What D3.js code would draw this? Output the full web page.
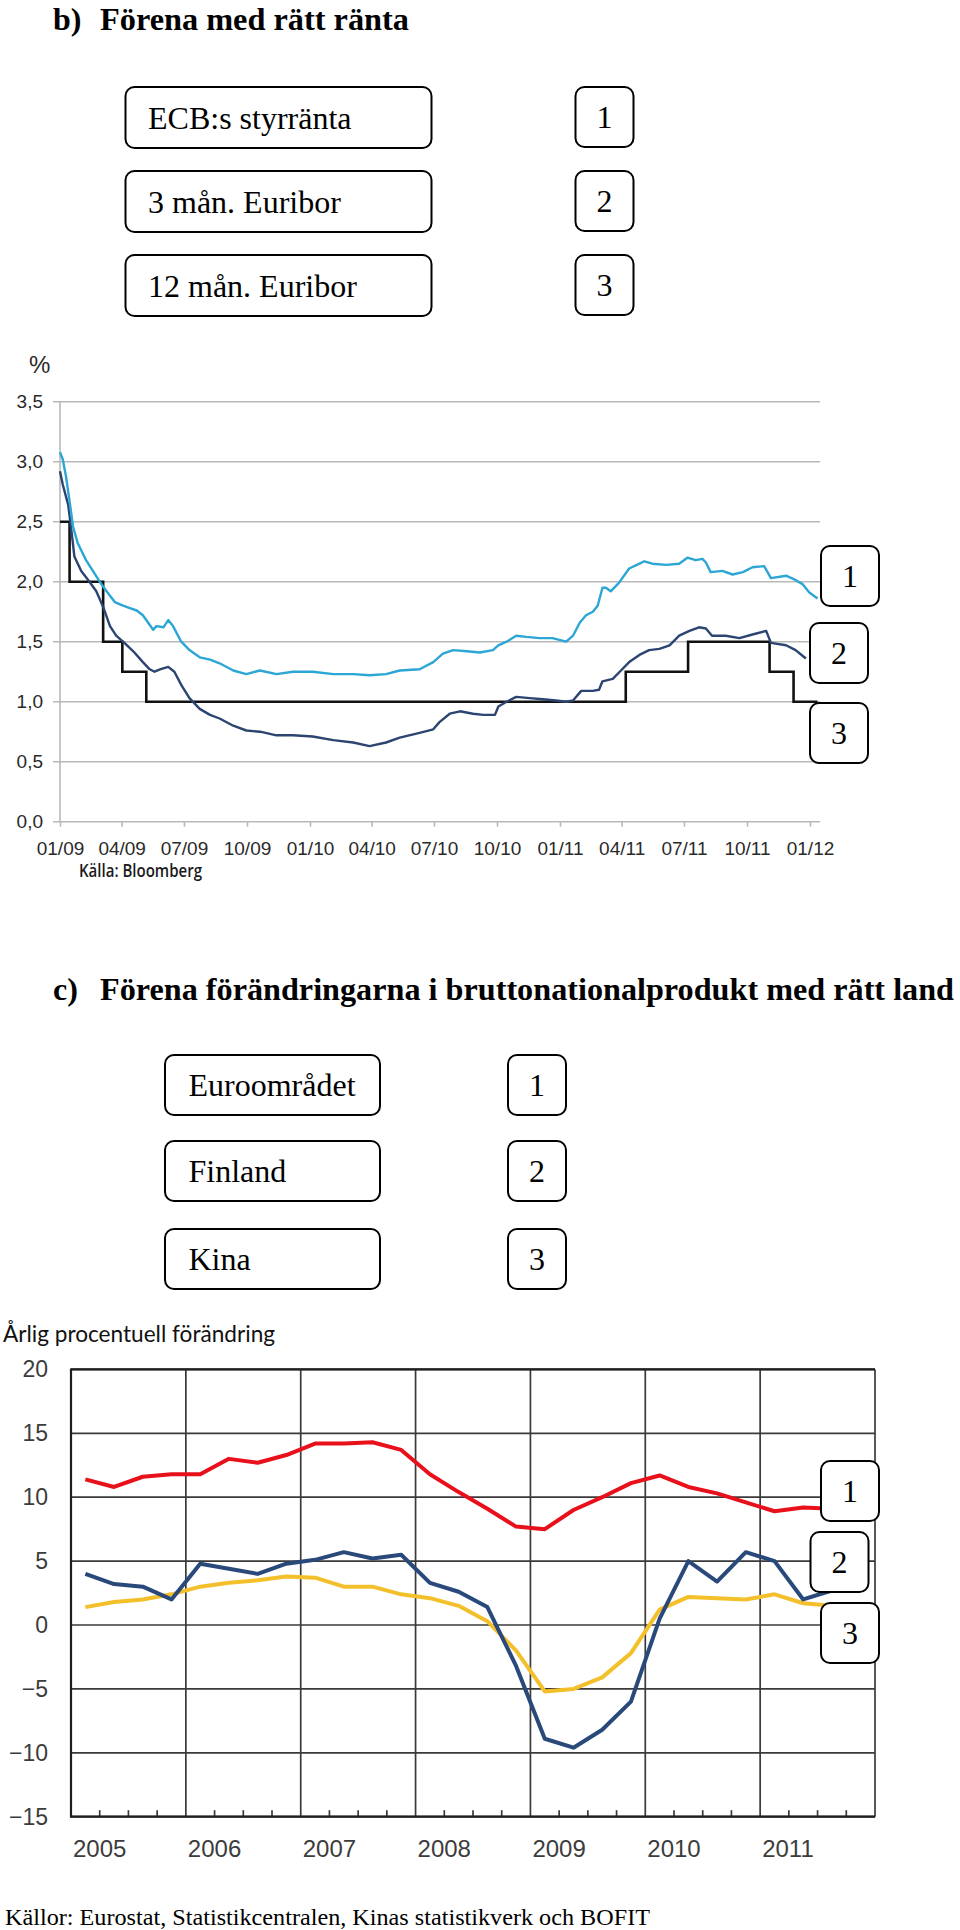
<!DOCTYPE html>
<html><head><meta charset="utf-8">
<script src="https://cdn.jsdelivr.net/npm/d3@7"></script>
<style>body{margin:0;background:#fff}svg{display:block}</style>
</head><body>
<svg id="c" width="960" height="1930"></svg>
<script>
// ---------- DATA ----------
const rateLabels = ["ECB:s styrränta", "3 mån. Euribor", "12 mån. Euribor"];
const gdpLabels = ["Euroområdet", "Finland", "Kina"];
const numberLabels = ["1", "2", "3"];

const rateTicks = [0, 0.5, 1, 1.5, 2, 2.5, 3, 3.5];

const ecbRate = [["2009-01-01",2.5],["2009-01-15",2.0],["2009-03-05",1.5],["2009-04-02",1.25],["2009-05-07",1.0],
  ["2011-04-07",1.25],["2011-07-07",1.5],["2011-11-03",1.25],["2011-12-08",1.0],["2012-01-12",1.0]];

const euribor3m = [["2009-01-01",2.92],["2009-01-05",2.81],["2009-01-13",2.64],["2009-01-18",2.41],["2009-01-22",2.21],
  ["2009-02-01",2.09],["2009-02-13",2.00],["2009-02-23",1.92],["2009-03-05",1.79],["2009-03-15",1.63],["2009-03-24",1.55],
  ["2009-04-05",1.49],["2009-04-18",1.42],["2009-05-02",1.33],["2009-05-12",1.27],["2009-05-19",1.25],["2009-05-27",1.27],
  ["2009-06-08",1.29],["2009-06-17",1.25],["2009-06-27",1.14],["2009-07-09",1.03],["2009-07-24",0.94],["2009-08-08",0.89],
  ["2009-08-22",0.86],["2009-09-11",0.80],["2009-09-30",0.76],["2009-10-20",0.75],["2009-11-13",0.72],["2009-12-07",0.72],
  ["2010-01-05",0.71],["2010-02-04",0.68],["2010-03-05",0.66],["2010-03-29",0.63],["2010-04-22",0.66],["2010-05-12",0.70],
  ["2010-06-10",0.74],["2010-06-30",0.77],["2010-07-09",0.83],["2010-07-24",0.90],["2010-08-08",0.92],["2010-08-27",0.90],
  ["2010-09-11",0.89],["2010-09-28",0.89],["2010-10-03",0.96],["2010-10-15",1.00],["2010-10-29",1.04],["2010-11-18",1.03],
  ["2010-12-07",1.02],["2010-12-26",1.01],["2011-01-10",1.00],["2011-01-20",1.01],["2011-02-01",1.09],["2011-02-18",1.09],
  ["2011-02-27",1.10],["2011-03-04",1.17],["2011-03-19",1.19],["2011-03-31",1.26],["2011-04-12",1.33],["2011-04-27",1.39],
  ["2011-05-11",1.43],["2011-05-26",1.44],["2011-06-10",1.47],["2011-06-24",1.55],["2011-07-09",1.59],["2011-07-23",1.62],
  ["2011-08-02",1.61],["2011-08-11",1.55],["2011-08-31",1.55],["2011-09-20",1.53],["2011-10-09",1.56],["2011-10-29",1.59],
  ["2011-11-05",1.49],["2011-11-27",1.47],["2011-12-11",1.43],["2011-12-26",1.36]];

const euribor12m = [["2009-01-01",3.08],["2009-01-05",3.02],["2009-01-10",2.87],["2009-01-15",2.67],["2009-01-20",2.46],
  ["2009-01-27",2.32],["2009-02-08",2.18],["2009-02-18",2.09],["2009-02-28",2.00],["2009-03-10",1.92],["2009-03-22",1.83],
  ["2009-04-03",1.80],["2009-04-13",1.78],["2009-04-23",1.76],["2009-05-02",1.72],["2009-05-17",1.60],["2009-05-22",1.63],
  ["2009-06-01",1.62],["2009-06-08",1.68],["2009-06-15",1.63],["2009-06-27",1.50],["2009-07-09",1.43],["2009-07-24",1.37],
  ["2009-08-08",1.35],["2009-08-22",1.32],["2009-09-11",1.26],["2009-09-30",1.23],["2009-10-20",1.26],["2009-11-13",1.23],
  ["2009-12-07",1.25],["2010-01-05",1.25],["2010-02-04",1.23],["2010-03-05",1.23],["2010-03-29",1.22],["2010-04-22",1.23],
  ["2010-05-12",1.26],["2010-06-10",1.27],["2010-06-30",1.33],["2010-07-14",1.40],["2010-07-29",1.43],["2010-08-18",1.42],
  ["2010-09-06",1.41],["2010-09-25",1.43],["2010-10-03",1.47],["2010-10-15",1.50],["2010-10-29",1.55],["2010-11-13",1.54],
  ["2010-12-02",1.53],["2010-12-21",1.53],["2011-01-10",1.50],["2011-01-20",1.55],["2011-01-30",1.66],["2011-02-08",1.72],
  ["2011-02-18",1.75],["2011-02-25",1.80],["2011-03-04",1.95],["2011-03-09",1.95],["2011-03-16",1.92],["2011-03-28",1.99],
  ["2011-04-12",2.11],["2011-04-27",2.15],["2011-05-04",2.17],["2011-05-16",2.15],["2011-06-05",2.14],["2011-06-24",2.15],
  ["2011-07-06",2.20],["2011-07-18",2.18],["2011-07-28",2.19],["2011-08-02",2.16],["2011-08-09",2.08],["2011-08-26",2.09],
  ["2011-09-10",2.06],["2011-09-25",2.08],["2011-10-09",2.12],["2011-10-26",2.13],["2011-11-05",2.03],["2011-11-27",2.05],
  ["2011-12-09",2.02],["2011-12-21",1.98],["2011-12-31",1.91],["2012-01-12",1.86]];

const gdpTicks = [-15, -10, -5, 0, 5, 10, 15, 20];
const gdpYears = [2005, 2006, 2007, 2008, 2009, 2010, 2011];
const gdpQuarters = ["2005Q1","2005Q2","2005Q3","2005Q4","2006Q1","2006Q2","2006Q3","2006Q4",
  "2007Q1","2007Q2","2007Q3","2007Q4","2008Q1","2008Q2","2008Q3","2008Q4",
  "2009Q1","2009Q2","2009Q3","2009Q4","2010Q1","2010Q2","2010Q3","2010Q4",
  "2011Q1","2011Q2","2011Q3"];
const chinaGdp = [11.4,10.8,11.6,11.8, 11.8,13.0,12.7,13.3, 14.2,14.2,14.3,13.7, 11.8,10.4,9.1,7.7,
  7.5,9.0,10.0,11.1, 11.7,10.8,10.3,9.6, 8.9,9.2,9.1];
const finlandGdp = [4.0,3.2,3.0,2.0, 4.8,4.4,4.0,4.8, 5.1,5.7,5.2,5.5, 3.3,2.6,1.4,-3.2,
  -8.9,-9.6,-8.2,-6.0, 0.5,5.0,3.4,5.7, 5.0,2.0,2.7];
const euroGdp = [1.4,1.8,2.0,2.4, 3.0,3.3,3.5,3.8, 3.7,3.0,3.0,2.4, 2.1,1.5,0.3,-2.0,
  -5.2,-5.0,-4.1,-2.2, 1.2,2.2,2.1,2.0, 2.4,1.7,1.5];

// ---------- DRAW ----------
const svg = d3.select("#c");
svg.append("rect").attr("width",960).attr("height",1930).attr("fill","#fff");
const SERIF = "'Liberation Serif','Times New Roman',serif";
const SANS = "'Liberation Sans',Arial,sans-serif";

function roundBox(x, y, w, h) {
  svg.append("rect").attr("x", x).attr("y", y).attr("width", w).attr("height", h)
    .attr("rx", 9).attr("ry", 9).attr("fill", "#fff").attr("stroke", "#000").attr("stroke-width", 2);
}
function numBox(x, y, label) {
  roundBox(x, y, 58, 60);
  svg.append("text").attr("x", x + 29).attr("y", y + 41).attr("text-anchor", "middle")
    .attr("font-family", SERIF).attr("font-size", 32).text(label);
}
function title(letter, txt, y, len) {
  svg.append("text").attr("x", 53).attr("y", y).attr("font-family", SERIF).attr("font-weight", "bold")
    .attr("font-size", 32).text(letter);
  svg.append("text").attr("x", 100).attr("y", y).attr("font-family", SERIF).attr("font-weight", "bold")
    .attr("font-size", 32).attr("textLength", len).attr("lengthAdjust", "spacingAndGlyphs").text(txt);
}

// ===== Section b =====
title("b)", "Förena med rätt ränta", 29.5, 309);
rateLabels.forEach((t, i) => {
  const y = 87 + i * 84;
  roundBox(125.5, y, 306, 61);
  svg.append("text").attr("x", 148).attr("y", y + 42).attr("font-family", SERIF).attr("font-size", 32).text(t);
  numBox(575.5, y, numberLabels[i]);
});

const parse = d3.timeParse("%Y-%m-%d");
const xB = d3.scaleTime().domain([new Date(2009,0,1), new Date(2012,0,1)]).range([60, 810]);
const yB = d3.scaleLinear().domain([0, 3.5]).range([821.7, 401.7]);

const gB = svg.append("g");
gB.selectAll("line.grid").data(rateTicks).join("line").attr("class","grid")
  .attr("x1", 53).attr("x2", 820).attr("y1", d => yB(d)).attr("y2", d => yB(d))
  .attr("stroke", "#b9b9b9").attr("stroke-width", 1.6);
gB.append("line").attr("x1", 60).attr("x2", 60).attr("y1", yB(3.5)).attr("y2", yB(0))
  .attr("stroke", "#b9b9b9").attr("stroke-width", 1.6);

const yAxB = gB.append("g").attr("transform", "translate(60,0)")
  .call(d3.axisLeft(yB).tickValues(rateTicks).tickSize(0).tickPadding(17)
    .tickFormat(d => d3.format(".1f")(d).replace(".", ",")));
yAxB.select(".domain").remove();
yAxB.selectAll("text").attr("font-family", SANS).attr("font-size", 19).attr("fill", "#2a2a2a");

const xAxB = gB.append("g").attr("transform", `translate(0,${yB(0)})`)
  .call(d3.axisBottom(xB).ticks(d3.timeMonth.every(3)).tickFormat(d3.timeFormat("%m/%y")).tickSize(5));
xAxB.select(".domain").remove();
xAxB.selectAll("line").attr("stroke", "#b9b9b9").attr("stroke-width", 1.6);
xAxB.selectAll("text").attr("y", 33.3).attr("dy", 0).attr("font-family", SANS).attr("font-size", 19).attr("fill", "#2a2a2a");

svg.append("text").attr("x", 29).attr("y", 373).attr("font-family", SANS).attr("font-size", 24)
  .attr("fill", "#2a2a2a").text("%");
svg.append("text").attr("x", 79).attr("y", 877).attr("font-family", "'Open Sans',sans-serif")
  .attr("font-weight", 600).attr("font-size", 18).attr("textLength", 123).attr("lengthAdjust", "spacingAndGlyphs")
  .attr("fill", "#1a1a1a").text("Källa: Bloomberg");

const lineB = d3.line().x(d => xB(parse(d[0]))).y(d => yB(d[1]));
gB.append("path").datum(ecbRate).attr("d", lineB.curve(d3.curveStepAfter)).attr("fill", "none")
  .attr("stroke", "#111").attr("stroke-width", 2.6);
const lineB2 = d3.line().x(d => xB(parse(d[0]))).y(d => yB(d[1]));
gB.append("path").datum(euribor3m).attr("d", lineB2).attr("fill", "none")
  .attr("stroke", "#2b4570").attr("stroke-width", 2.4).attr("stroke-linejoin", "round");
gB.append("path").datum(euribor12m).attr("d", lineB2).attr("fill", "none")
  .attr("stroke", "#2ba6d5").attr("stroke-width", 2.4).attr("stroke-linejoin", "round");

numBox(821, 546, numberLabels[0]);
numBox(810, 623, numberLabels[1]);
numBox(810, 703, numberLabels[2]);

// ===== Section c =====
title("c)", "Förena förändringarna i bruttonationalprodukt med rätt land", 1000, 854);
const cBoxY = [1055, 1141, 1229];
gdpLabels.forEach((t, i) => {
  const y = cBoxY[i];
  roundBox(165, y, 215, 60);
  svg.append("text").attr("x", 188.5).attr("y", y + 41).attr("font-family", SERIF).attr("font-size", 32).text(t);
  numBox(508, y, numberLabels[i]);
});

svg.append("text").attr("x", 3).attr("y", 1342).attr("font-family", "Lato,'Open Sans',sans-serif")
  .attr("font-size", 23.5).attr("textLength", 272).attr("lengthAdjust", "spacingAndGlyphs")
  .attr("fill", "#111").text("Årlig procentuell förändring");

const xC = d3.scaleLinear().domain([2005, 2012]).range([71, 875]);
const yC = d3.scaleLinear().domain([-15, 20]).range([1816.7, 1369.4]);
const qPos = q => +q.slice(0, 4) + (+q.slice(5) - 0.5) / 4;

const gC = svg.append("g");
gC.selectAll("line.h").data(gdpTicks).join("line").attr("class","h")
  .attr("x1", xC(2005)).attr("x2", xC(2012)).attr("y1", d => yC(d)).attr("y2", d => yC(d))
  .attr("stroke", "#3a3a3a").attr("stroke-width", 1.7);
gC.selectAll("line.v").data(gdpYears.concat([2012])).join("line").attr("class","v")
  .attr("x1", d => xC(d)).attr("x2", d => xC(d)).attr("y1", yC(20)).attr("y2", yC(-15))
  .attr("stroke", "#3a3a3a").attr("stroke-width", 1.7);
const minor = [];
gdpYears.forEach(y => [0.25, 0.5, 0.75].forEach(f => minor.push(y + f)));
gC.selectAll("line.m").data(minor).join("line").attr("class","m")
  .attr("x1", d => xC(d)).attr("x2", d => xC(d)).attr("y1", yC(-15)).attr("y2", yC(-15) - 6.5)
  .attr("stroke", "#3a3a3a").attr("stroke-width", 1.7);
gC.append("line").attr("x1", xC(2005)).attr("x2", xC(2005)).attr("y1", yC(20) - 1).attr("y2", yC(-15) + 1)
  .attr("stroke", "#1e1e1e").attr("stroke-width", 2.2);
gC.append("line").attr("x1", xC(2005)).attr("x2", xC(2012)).attr("y1", yC(20)).attr("y2", yC(20))
  .attr("stroke", "#1e1e1e").attr("stroke-width", 2.2);
gC.append("line").attr("x1", xC(2005)).attr("x2", xC(2012)).attr("y1", yC(-15)).attr("y2", yC(-15))
  .attr("stroke", "#1e1e1e").attr("stroke-width", 2.2);

const yAxC = gC.append("g").attr("transform", `translate(${xC(2005)},0)`)
  .call(d3.axisLeft(yC).tickValues(gdpTicks).tickSize(0).tickPadding(23));
yAxC.select(".domain").remove();
yAxC.selectAll("text").attr("font-family", SANS).attr("font-size", 23).attr("fill", "#3c3c3c");

const xAxC = gC.append("g").attr("transform", `translate(0,${yC(-15)})`)
  .call(d3.axisBottom(xC).tickValues(gdpYears).tickSize(0).tickFormat(d3.format("d")));
xAxC.select(".domain").remove();
xAxC.selectAll("text").attr("text-anchor", "start").attr("x", 1.5).attr("y", 40).attr("dy", 0)
  .attr("font-family", SANS).attr("font-size", 24).attr("fill", "#3c3c3c");

const lineC = vals => d3.line().x((d, i) => xC(qPos(gdpQuarters[i]))).y(d => yC(d))(vals);
gC.append("path").attr("d", lineC(euroGdp)).attr("fill", "none").attr("stroke", "#f3c02b")
  .attr("stroke-width", 4).attr("stroke-linejoin", "round");
gC.append("path").attr("d", lineC(finlandGdp)).attr("fill", "none").attr("stroke", "#28497a")
  .attr("stroke-width", 4).attr("stroke-linejoin", "round");
gC.append("path").attr("d", lineC(chinaGdp)).attr("fill", "none").attr("stroke", "#e8111b")
  .attr("stroke-width", 4).attr("stroke-linejoin", "round");

numBox(821, 1461, numberLabels[0]);
numBox(810.5, 1532, numberLabels[1]);
numBox(821, 1603, numberLabels[2]);

svg.append("text").attr("x", 5).attr("y", 1925).attr("font-family", SERIF).attr("font-size", 24)
  .attr("textLength", 645).attr("lengthAdjust", "spacingAndGlyphs").attr("fill", "#000")
  .text("Källor: Eurostat, Statistikcentralen, Kinas statistikverk och BOFIT");
</script>
</body></html>
